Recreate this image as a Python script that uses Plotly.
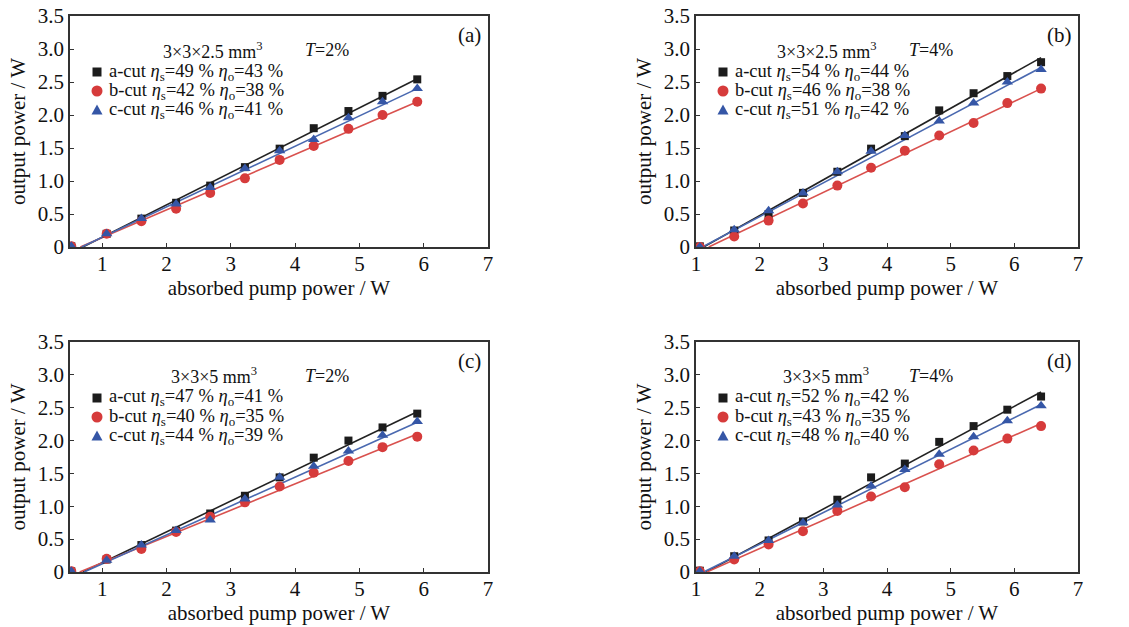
import plotly.graph_objects as go

# ---------------- data ----------------
x_a = [0.52, 1.07, 1.61, 2.15, 2.68, 3.22, 3.76, 4.29, 4.83, 5.36, 5.90]
x_b = [1.06, 1.60, 2.14, 2.68, 3.22, 3.75, 4.28, 4.82, 5.36, 5.89, 6.42]

# panel (a) 3x3x2.5 mm3, T=2%
a_acut = [0.01, 0.20, 0.43, 0.67, 0.93, 1.21, 1.49, 1.80, 2.06, 2.29, 2.54]
a_bcut = [0.01, 0.20, 0.39, 0.58, 0.82, 1.04, 1.32, 1.53, 1.79, 2.00, 2.20]
a_ccut = [0.01, 0.20, 0.43, 0.65, 0.90, 1.19, 1.46, 1.63, 1.96, 2.20, 2.40]
# panel (b) 3x3x2.5 mm3, T=4%
b_acut = [0.01, 0.25, 0.50, 0.82, 1.14, 1.49, 1.68, 2.07, 2.33, 2.59, 2.80]
b_bcut = [0.00, 0.16, 0.40, 0.66, 0.93, 1.20, 1.46, 1.69, 1.88, 2.18, 2.40]
b_ccut = [0.00, 0.26, 0.55, 0.82, 1.14, 1.45, 1.69, 1.91, 2.18, 2.50, 2.69]
# panel (c) 3x3x5 mm3, T=2%
c_acut = [0.01, 0.19, 0.41, 0.63, 0.89, 1.16, 1.44, 1.74, 2.00, 2.20, 2.41]
c_bcut = [0.01, 0.20, 0.35, 0.61, 0.84, 1.06, 1.30, 1.51, 1.69, 1.90, 2.06]
c_ccut = [0.01, 0.18, 0.41, 0.63, 0.79, 1.11, 1.44, 1.61, 1.84, 2.08, 2.29]
# panel (d) 3x3x5 mm3, T=4%
d_acut = [0.02, 0.24, 0.48, 0.77, 1.10, 1.44, 1.65, 1.98, 2.22, 2.47, 2.67]
d_bcut = [0.01, 0.19, 0.42, 0.62, 0.93, 1.15, 1.29, 1.64, 1.85, 2.03, 2.22]
d_ccut = [0.01, 0.24, 0.48, 0.75, 1.02, 1.31, 1.56, 1.79, 2.06, 2.30, 2.53]

# linear-fit line endpoints: [x_start, x_end], [y_start, y_end]
fit_a = {"a": ([0.70, 5.90], [0.0, 2.55]), "b": ([0.66, 5.90], [0.0, 2.20]), "c": ([0.68, 5.90], [0.0, 2.40])}
fit_b = {"a": ([1.12, 6.42], [0.0, 2.87]), "b": ([1.20, 6.42], [0.0, 2.40]), "c": ([1.10, 6.42], [0.0, 2.72])}
fit_c = {"a": ([0.70, 5.90], [0.0, 2.44]), "b": ([0.65, 5.90], [0.0, 2.10]), "c": ([0.72, 5.90], [0.0, 2.28])}
fit_d = {"a": ([1.16, 6.42], [0.0, 2.74]), "b": ([1.17, 6.42], [0.0, 2.26]), "c": ([1.12, 6.42], [0.0, 2.55])}

eta_s = {"a": [49, 42, 46], "b": [54, 46, 51], "c": [47, 40, 44], "d": [52, 43, 48]}
eta_o = {"a": [43, 38, 41], "b": [44, 38, 42], "c": [41, 35, 39], "d": [42, 35, 40]}
crystal = {"a": "3×3×2.5 mm<sup>3</sup>", "b": "3×3×2.5 mm<sup>3</sup>",
           "c": "3×3×5 mm<sup>3</sup>", "d": "3×3×5 mm<sup>3</sup>"}
transm = {"a": "2%", "b": "4%", "c": "2%", "d": "4%"}
cuts = ["a-cut", "b-cut", "c-cut"]
y_ticks = [0, 0.5, 1, 1.5, 2, 2.5, 3, 3.5]
y_ticklabels = ["0", "0.5", "1.0", "1.5", "2.0", "2.5", "3.0", "3.5"]

panels = [
    ("a", x_a, [a_acut, a_bcut, a_ccut], fit_a, 0.5),
    ("b", x_b, [b_acut, b_bcut, b_ccut], fit_b, 1.0),
    ("c", x_a, [c_acut, c_bcut, c_ccut], fit_c, 0.5),
    ("d", x_b, [d_acut, d_bcut, d_ccut], fit_d, 1.0),
]

# ---------------- style ----------------
W, H = 1129, 627
FONT = "Liberation Serif"
colors = ["#1c1c1c", "#d63b3b", "#3556a6"]
line_colors = ["#222222", "#d9514e", "#4a69b0"]
symbols = ["square", "circle", "triangle-up"]
msizes = [8, 10, 10]

# pixel boxes of the plot areas (left, right, top, bottom)
boxes = {"a": (70, 488, 16, 247), "b": (696, 1078, 16, 247),
         "c": (70, 488, 342, 572), "d": (696, 1078, 342, 572)}
# header text offsets (crystal, T) from panel left edge
hdr = {"a": (143, 257), "b": (131, 235), "c": (144, 257), "d": (130, 235)}


def px(x):
    return x / W


def py(y):
    return 1 - y / H


fig = go.Figure()
layout = {}
annotations = []
shapes = []
for i, (key, xs, ys, fits, xmin) in enumerate(panels):
    n = i + 1
    xa = "x" if n == 1 else f"x{n}"
    ya = "y" if n == 1 else f"y{n}"
    l, r, t, b = boxes[key]
    for j in range(3):
        fx, fy = fits["abc"[j]]
        fig.add_trace(go.Scatter(x=fx, y=fy, mode="lines", xaxis=xa, yaxis=ya,
                                 line=dict(color=line_colors[j], width=1.6),
                                 showlegend=False, hoverinfo="skip"))
    for j in range(3):
        name = (f"{cuts[j]} <i>η</i><sub>s</sub>={eta_s[key][j]} % "
                f"<i>η</i><sub>o</sub>={eta_o[key][j]} %")
        fig.add_trace(go.Scatter(x=xs, y=ys[j], mode="markers", xaxis=xa, yaxis=ya,
                                 name=name, showlegend=False,
                                 marker=dict(symbol=symbols[j], size=msizes[j],
                                             color=colors[j])))
        # manual legend: key glyph (shape) + text (annotation)
        cx, cy = l + 27, t + 56 + 19 * j
        if j == 0:
            s = 4.5
            shapes.append(dict(type="rect", xref="paper", yref="paper",
                               x0=px(cx - s), x1=px(cx + s), y0=py(cy + s), y1=py(cy - s),
                               fillcolor=colors[j], line=dict(width=0)))
        elif j == 1:
            s = 5.5
            shapes.append(dict(type="circle", xref="paper", yref="paper",
                               x0=px(cx - s), x1=px(cx + s), y0=py(cy + s), y1=py(cy - s),
                               fillcolor=colors[j], line=dict(width=0)))
        else:
            s = 5.5
            path = (f"M {px(cx - s)},{py(cy + 4.5)} L {px(cx + s)},{py(cy + 4.5)} "
                    f"L {px(cx)},{py(cy - 5.5)} Z")
            shapes.append(dict(type="path", xref="paper", yref="paper", path=path,
                               fillcolor=colors[j], line=dict(width=0)))
        annotations.append(dict(x=px(l + 37), y=py(cy), xref="paper", yref="paper",
                                text=name, showarrow=False, xanchor="left", yanchor="middle",
                                font=dict(family=FONT, size=18.5, color="#111")))
    axcommon = dict(showline=True, linecolor="#333333", linewidth=1.5, mirror=True,
                    ticks="inside", ticklen=4, tickcolor="#333333", showgrid=False,
                    zeroline=False, automargin=False,
                    tickfont=dict(family=FONT, size=21, color="#111"),
                    title_font=dict(family=FONT, size=21, color="#111"))
    layout["xaxis" if n == 1 else f"xaxis{n}"] = dict(
        axcommon, domain=[px(l), px(r)], range=[xmin, 7], dtick=1, tick0=1,
        anchor=ya, ticklabelstandoff=-3,
        title=dict(text="absorbed pump power / W", standoff=2))
    layout["yaxis" if n == 1 else f"yaxis{n}"] = dict(
        axcommon, domain=[py(b), py(t)], range=[0, 3.5],
        tickvals=y_ticks, ticktext=y_ticklabels,
        anchor=xa, title=dict(text="output power / W", standoff=6))
    hx1, hx2 = hdr[key]
    annotations.append(dict(x=px(l + hx1), y=py(t + 34), xref="paper", yref="paper",
                            text=crystal[key], showarrow=False, xanchor="center",
                            yanchor="middle",
                            font=dict(family=FONT, size=18, color="#111")))
    annotations.append(dict(x=px(l + hx2), y=py(t + 34), xref="paper", yref="paper",
                            text=f"<i>T</i>={transm[key]}", showarrow=False, xanchor="center",
                            yanchor="middle",
                            font=dict(family=FONT, size=18, color="#111")))
    annotations.append(dict(x=px(r - 19), y=py(t + 19), xref="paper", yref="paper",
                            text=f"({key})", showarrow=False, xanchor="center",
                            yanchor="middle",
                            font=dict(family=FONT, size=21, color="#111")))

fig.update_layout(width=W, height=H, margin=dict(l=0, r=0, t=0, b=0),
                  template="none",
                  paper_bgcolor="white", plot_bgcolor="white", showlegend=False,
                  annotations=annotations, shapes=shapes, **layout)
fig.write_html("out.html")
